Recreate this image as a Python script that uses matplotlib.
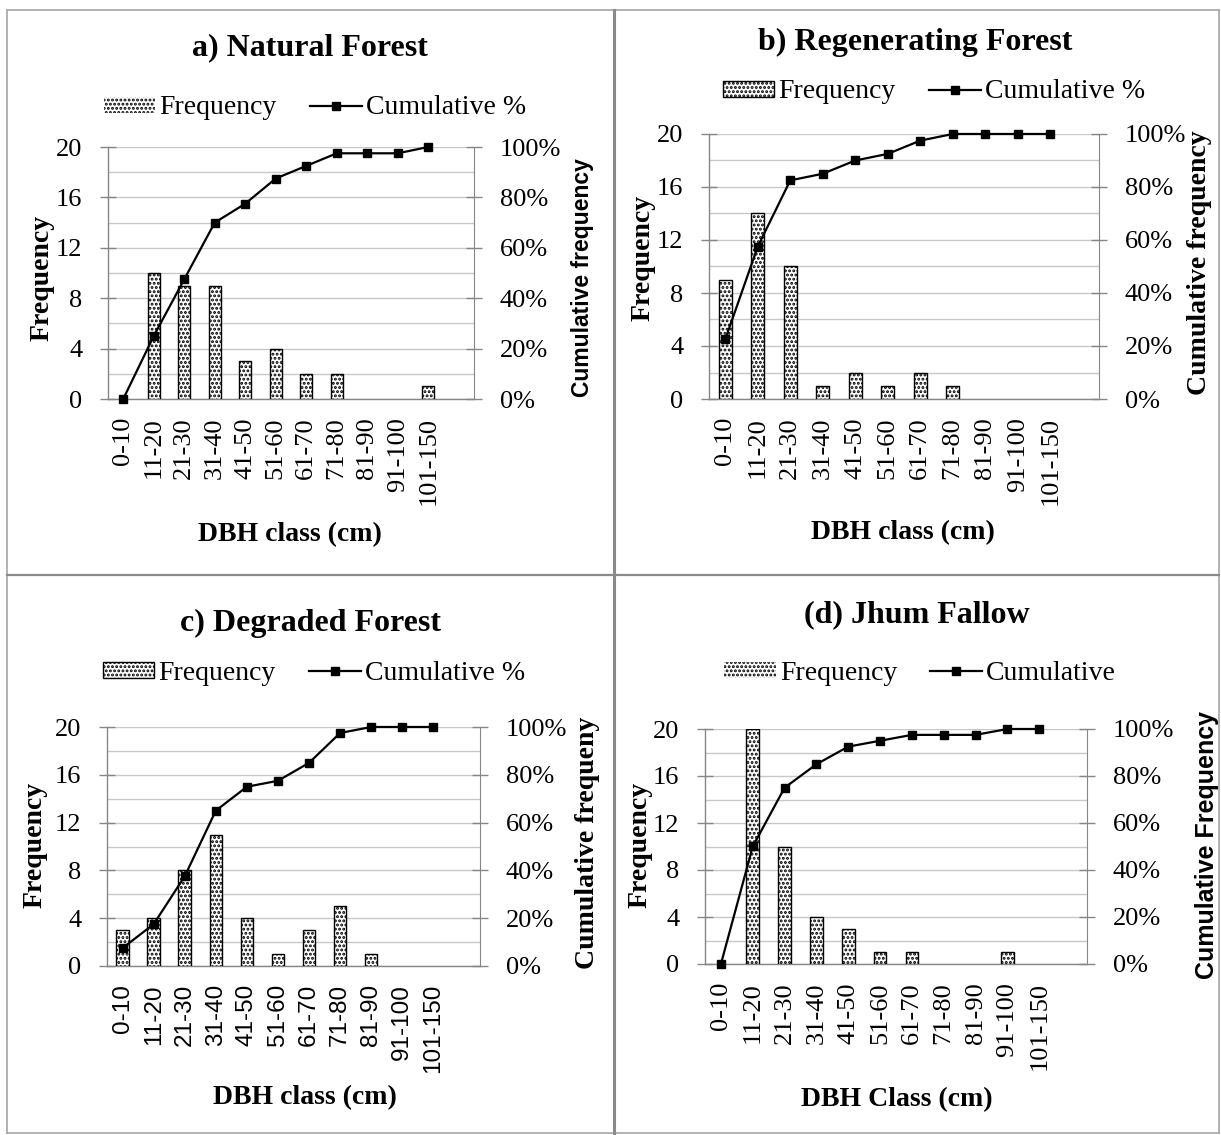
import numpy as np
import matplotlib.pyplot as plt
from matplotlib.lines import Line2D
from matplotlib.ticker import PercentFormatter

SERIF = "Liberation Serif"
SANS = "Liberation Sans"
plt.rcParams["font.family"] = [SERIF, "DejaVu Serif"]
plt.rcParams["hatch.linewidth"] = 1.4
plt.rcParams["hatch.color"] = "black"

W, H = 1221, 1135

dbh_classes = ["0-10", "11-20", "21-30", "31-40", "41-50", "51-60",
               "61-70", "71-80", "81-90", "91-100", "101-150"]

freq_natural = [0, 10, 9, 9, 3, 4, 2, 2, 0, 0, 1]
cum_natural = [0, 25, 47.5, 70, 77.5, 87.5, 92.5, 97.5, 97.5, 97.5, 100]

freq_regen = [9, 14, 10, 1, 2, 1, 2, 1, 0, 0, 0]
cum_regen = [22.5, 57.5, 82.5, 85, 90, 92.5, 97.5, 100, 100, 100, 100]

freq_degraded = [3, 4, 8, 11, 4, 1, 3, 5, 1, 0, 0]
cum_degraded = [7.5, 17.5, 37.5, 65, 75, 77.5, 85, 97.5, 100, 100, 100]

freq_jhum = [0, 20, 10, 4, 3, 1, 1, 0, 0, 1, 0]
cum_jhum = [0, 50, 75, 85, 92.5, 95, 97.5, 97.5, 97.5, 100, 100]


def fx(x):
    return x / W


def fy(y):
    return 1 - y / H


def box(x0, y0, x1, y1):
    return [x0 / W, 1 - y1 / H, (x1 - x0) / W, (y1 - y0) / H]


def draw_panel(fig, rect, freq, cum, xfont, xsize):
    ax = fig.add_axes(box(*rect))
    x = np.arange(len(freq))
    # empty classes get no outline, like in the original
    edge_w = [1.0 if v > 0 else 0 for v in freq]
    bars = ax.bar(x, freq, width=0.4, color="white", edgecolor="black",
                  hatch="....", linewidth=edge_w, zorder=3)
    ax.set_xlim(-0.5, len(freq) + 0.5)
    ax.set_ylim(0, 20)
    ax.set_yticks(np.arange(0, 21, 4))
    ax.set_yticks(np.arange(2, 21, 4), minor=True)
    ax.grid(axis="y", which="both", color="#c8c8c8", lw=1.0)
    ax.set_axisbelow(True)
    ax.tick_params(axis="y", which="major", direction="inout", length=11,
                   width=1, color="#868686", pad=13, labelsize=19)
    ax.tick_params(axis="y", which="minor", length=0)
    ax.set_xticks(x)
    ax.set_xticklabels(dbh_classes, rotation=90, family=xfont, fontsize=xsize)
    ax.tick_params(axis="x", length=0, pad=13)
    for s in ["top", "right"]:
        ax.spines[s].set_visible(False)
    for s in ["left", "bottom"]:
        ax.spines[s].set_color("#868686")
        ax.spines[s].set_linewidth(1.0)

    ax2 = ax.twinx()
    line, = ax2.plot(x, np.array(cum) / 100, color="black", lw=1.6,
                     marker="s", ms=5.8, zorder=5, clip_on=False)
    ax2.set_ylim(0, 1)
    ax2.set_yticks(np.linspace(0, 1, 6))
    ax2.yaxis.set_major_formatter(PercentFormatter(1.0, decimals=0))
    ax2.tick_params(axis="y", direction="inout", length=11, width=1,
                    color="#868686", pad=13, labelsize=19)
    for s in ["top", "left", "bottom"]:
        ax2.spines[s].set_visible(False)
    ax2.spines["right"].set_color("#868686")
    return bars, line


fig = plt.figure(figsize=(W / 100, H / 100), dpi=100)

panels = [
    dict(rect=(108, 147, 474, 399), freq=freq_natural, cum=cum_natural,
         xfont=SERIF, xsize=19,
         title="a) Natural Forest", tpos=(310, 48),
         leg=["Frequency", "Cumulative %"], lpos=(315, 108),
         xlabel="DBH class (cm)", xlpos=(290, 535),
         ylpos=(42, 278),
         rlabel="Cumulative frequency", rfont=SANS, rsize=16.5, rpos=(582, 278)),
    dict(rect=(709, 134, 1099, 399), freq=freq_regen, cum=cum_regen,
         xfont=SERIF, xsize=19,
         title="b) Regenerating Forest", tpos=(915, 42),
         leg=["Frequency", "Cumulative %"], lpos=(934, 92),
         xlabel="DBH class (cm)", xlpos=(903, 533),
         ylpos=(643, 258),
         rlabel="Cumulative frequency", rfont=SERIF, rsize=20, rpos=(1200, 263)),
    dict(rect=(107, 727, 480, 966), freq=freq_degraded, cum=cum_degraded,
         xfont=SANS, xsize=17.5,
         title="c) Degraded Forest", tpos=(310, 623),
         leg=["Frequency", "Cumulative %"], lpos=(314, 673),
         xlabel="DBH class (cm)", xlpos=(305, 1098),
         ylpos=(35, 845),
         rlabel="Cumulative frequeny", rfont=SERIF, rsize=20, rpos=(588, 843)),
    dict(rect=(705, 729, 1087, 964), freq=freq_jhum, cum=cum_jhum,
         xfont=SERIF, xsize=19,
         title="(d) Jhum Fallow", tpos=(917, 615),
         leg=["Frequency", "Cumulative"], lpos=(920, 673),
         xlabel="DBH Class (cm)", xlpos=(897, 1100),
         ylpos=(640, 845),
         rlabel="Cumulative Frequency", rfont=SANS, rsize=18, rpos=(1207, 845)),
]

for p in panels:
    bars, line = draw_panel(fig, p["rect"], p["freq"], p["cum"], p["xfont"], p["xsize"])
    fig.text(fx(p["tpos"][0]), fy(p["tpos"][1]), p["title"], ha="center",
             va="center", fontsize=23, fontweight="bold")
    fig.legend([bars, line], p["leg"], loc="center",
               bbox_to_anchor=(fx(p["lpos"][0]), fy(p["lpos"][1])),
               ncol=2, frameon=False, prop={"family": SERIF, "size": 20},
               handlelength=1.85, handleheight=0.5, handletextpad=0.15,
               columnspacing=1.2, borderpad=0, borderaxespad=0)
    fig.text(fx(p["xlpos"][0]), fy(p["xlpos"][1]), p["xlabel"], ha="center",
             va="center", fontsize=20, fontweight="bold")
    fig.text(fx(p["ylpos"][0]), fy(p["ylpos"][1]), "Frequency", ha="center",
             va="center", rotation=90, fontsize=20, fontweight="bold")
    fig.text(fx(p["rpos"][0]), fy(p["rpos"][1]), p["rlabel"], ha="center",
             va="center", rotation=90, fontsize=p["rsize"], fontweight="bold",
             family=p["rfont"])

# table borders around the four panels
border = "#a6a6a6"
for xs, ys in [((7, 1219), (10, 10)), ((7, 1219), (1133, 1133)),
               ((7, 7), (10, 1133)), ((1219, 1219), (10, 1133))]:
    fig.add_artist(Line2D([fx(v) for v in xs], [fy(v) for v in ys],
                          color=border, lw=1.2))
fig.add_artist(Line2D([fx(614), fx(614)], [fy(10), fy(1133)], color="#8a8a8a", lw=2.2))
fig.add_artist(Line2D([fx(7), fx(1219)], [fy(575), fy(575)], color="#8a8a8a", lw=1.6))

fig.savefig("out.png", dpi=100)
